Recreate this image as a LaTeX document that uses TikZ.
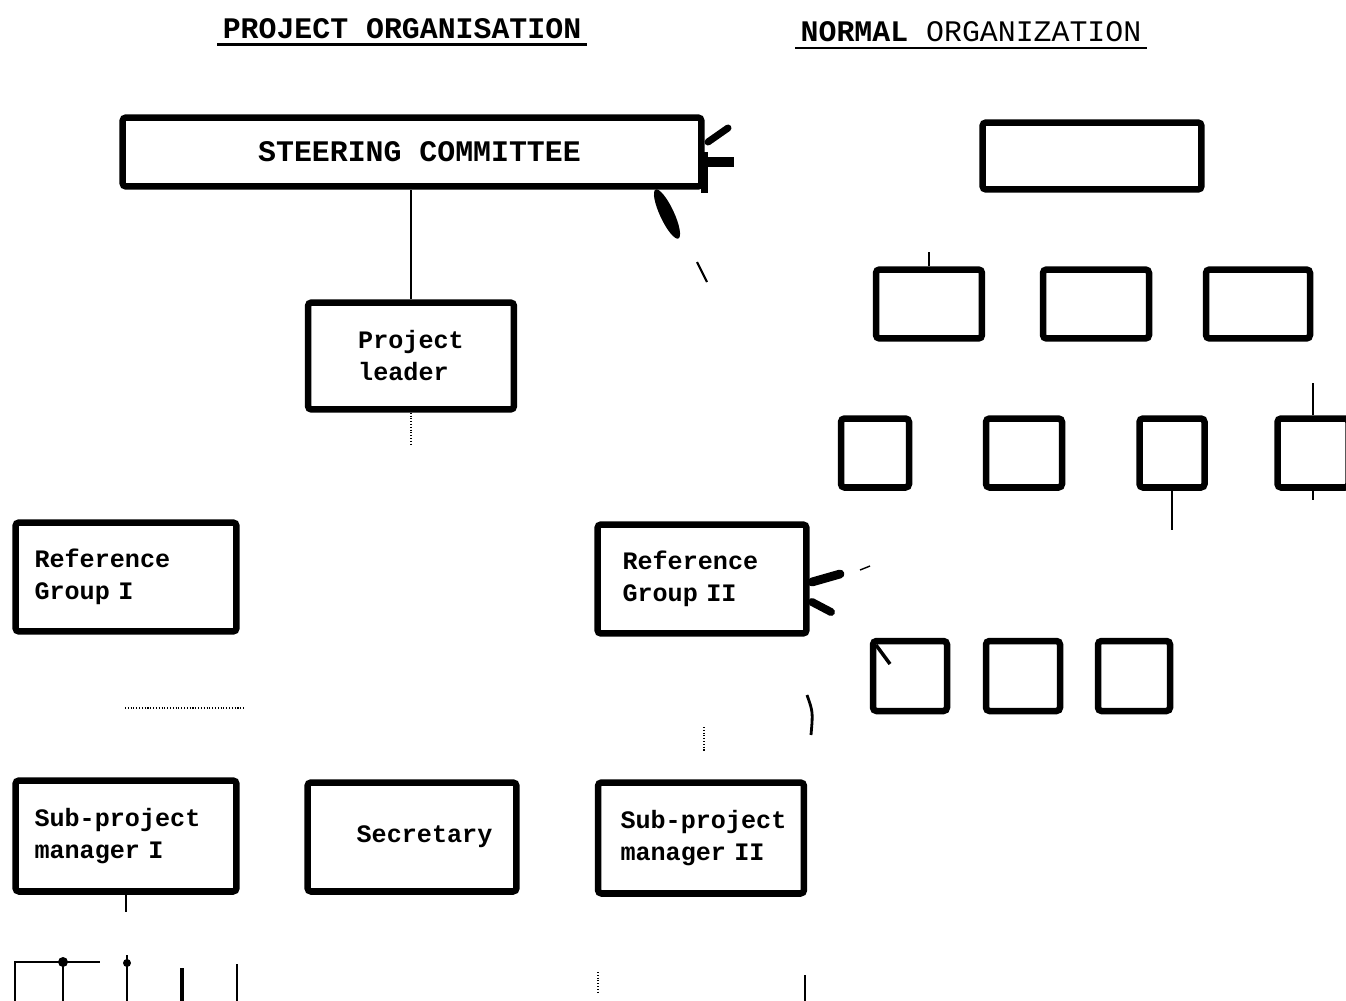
\documentclass[tikz,border=0pt]{standalone}
\usepackage{fontspec}
\setmonofont{Liberation Mono}

\newcommand\boxfont{\fontsize{14.3}{18.2}\selectfont\ttfamily\bfseries}
\newcommand\orghead{\fontsize{17}{20}\selectfont\ttfamily\bfseries}

\begin{document}
\begin{tikzpicture}[x=0.02cm, y=-0.02cm]
    \tikzset{
      box/.style={draw, line width=3.7pt, rounded corners=2pt, font=\boxfont},
      lbox/.style={box, align=left},
      link/.style={line width=0.8pt},
      faint/.style={line width=0.6pt, densely dotted},
      stem/.style={line width=1.4pt},
      ink/.style={line width=4pt, line cap=round}
    }
    \useasboundingbox (0,0) rectangle (1346,1001);

    % headings
    \node[font=\orghead, inner sep=3pt] (tproj) at (402,29) {PROJECT ORGANISATION};
    \node[font=\orghead, inner sep=3pt] (tnorm) at (971,32) {NORMAL \mdseries ORGANIZATION};
    \draw[line width=1.6pt] (tproj.south west) -- (tproj.south east);
    \draw[line width=1.2pt] (tnorm.south west) -- (tnorm.south east);

    % project organisation
    \node[box, font=\orghead, minimum width=11.58cm, minimum height=1.38cm] (stc) at (412,152) {\hspace{0.3cm}STEERING COMMITTEE};
    \node[box, align=left, minimum width=4.12cm, minimum height=2.14cm] (pl) at (411,356) {Project\\leader};
    \node[lbox, inner xsep=0.38cm, text width=3.66cm, minimum height=2.18cm] (rg1) at (126,577) {Reference\\Group I};
    \node[lbox, inner xsep=0.5cm, text width=3.18cm, minimum height=2.18cm] (rg2) at (702,579) {Reference\\Group II};
    \node[lbox, inner xsep=0.38cm, text width=3.66cm, minimum height=2.22cm] (sp1) at (126,836) {\mbox{Sub-project}\\manager I};
    \node[box, minimum width=4.18cm, minimum height=2.18cm] (sec) at (412,837) {\hspace{0.5cm}Secretary};
    \node[lbox, inner xsep=0.45cm, text width=3.22cm, minimum height=2.22cm] (sp2) at (701,838) {\mbox{Sub-project}\\manager II};

    % normal organization
    \node[box, minimum width=4.38cm, minimum height=1.34cm] (top) at (1092,156) {};
    \node[box, minimum width=2.12cm, minimum height=1.38cm] (d1) at (929,304) {};
    \node[box, minimum width=2.12cm, minimum height=1.38cm] (d2) at (1096,304) {};
    \node[box, minimum width=2.08cm, minimum height=1.38cm] (d3) at (1258,304) {};
    \node[box, minimum width=1.36cm, minimum height=1.38cm] (s1) at (875,453) {};
    \node[box, minimum width=1.52cm, minimum height=1.38cm] (s2) at (1024,453) {};
    \node[box, minimum width=1.30cm, minimum height=1.38cm] (s3) at (1172,453) {};
    \node[box, minimum width=1.42cm, minimum height=1.38cm] (s4) at (1313,453) {};
    \node[box, minimum width=1.48cm, minimum height=1.40cm] (u1) at (910,676) {};
    \node[box, minimum width=1.48cm, minimum height=1.40cm] (u2) at (1023,676) {};
    \node[box, minimum width=1.44cm, minimum height=1.40cm] (u3) at (1134,676) {};

    % loose ends
    \coordinate (plend) at (411,445);
    \coordinate (sp1end) at (126,912);
    \coordinate (rg1a) at (125,708);
    \coordinate (rg1b) at (245,708);
    \coordinate (rg2a) at (704,727);
    \coordinate (rg2b) at (704,752);
    \coordinate (d1end) at (929,252);
    \coordinate (s3end) at (1172,530);
    \coordinate (s4a) at (1313,383);
    \coordinate (s4b) at (1313,500);

    %edges
    \draw[link] (pl.north) -- (pl.north |- stc.south);
    \draw[faint] (pl.south) -- (plend);
    \draw[link] (sp1.south) -- (sp1end);
    \draw[faint] (rg1a) -- (rg1b);
    \draw[faint] (rg2a) -- (rg2b);
    \draw[link] (d1.north) -- (d1end);
    \draw[link] (s3.south) -- (s3end);
    \draw[link] (s4.north) -- (s4a);
    \draw[link] (s4.south) -- (s4b);

    % units below sub-project manager I
    \draw[stem] (15,1001) -- (15,962) -- (100,962);
    \draw[stem] (63,962) -- (63,1001);
    \fill (63,962) circle (5);
    \draw[stem] (127,955) -- (127,1001);
    \fill (127,963) circle (4);
    \draw[line width=2.4pt] (182,968) -- (182,1001);
    \draw[stem] (237,964) -- (237,1001);
    \draw[faint] (598,972) -- (598,992);
    \draw[link] (805,975) -- (805,1001);

    % arrow marks
    \draw[line width=3.7pt] (stc.east) -- ([yshift=-2pt]stc.south east);
    \draw[ink] (708,142) -- (728,128);
    \draw[line width=5.5pt] (706,162) -- (734,162);
    \fill[rotate around={25:(667,214)}] (667,214) ellipse (7 and 27);
    \draw[line width=1.2pt] (697,262) -- (707,282);
    \draw[line width=5pt, line cap=round] (812,582) -- (840,574);
    \draw[line width=4.5pt, line cap=round] (812,602) -- (831,612);
    \draw[line width=0.8pt] (860,570) -- (870,566);
    \draw[line width=1.6pt] (807,695) .. controls (813,712) .. (811,735);
    \draw[line width=2pt] (876,645) -- (890,664);
\end{tikzpicture}
\end{document}
